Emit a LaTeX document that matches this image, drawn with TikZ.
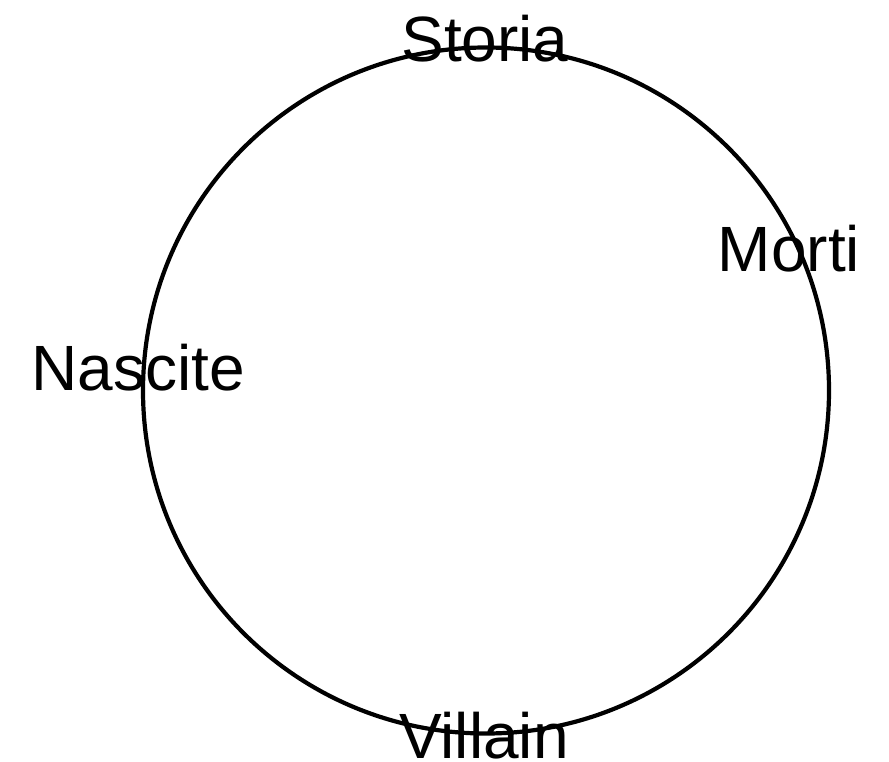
\documentclass[tikz,border=0pt]{standalone}
\usepackage{fontspec}
\setmainfont{Liberation Sans}
\usepackage{tikz}
\usetikzlibrary{positioning}

\begin{document}
\begin{tikzpicture}[
  x=1pt,y=-1pt,
  ring/.style={draw=black,line width=4.2pt,circle,inner sep=0pt,minimum size=686pt},
  lbl/.style={anchor=base,inner sep=0pt,font=\fontsize{64}{72}\selectfont}
]
\useasboundingbox (0,0) rectangle (889,762);
\node[ring] (cycle) at (486,390.5) {};
\node[lbl] (storia) at (485,62) {Storia};
\node[lbl] (morti) at (789,271) {Morti};
\node[lbl] (nascite) at (138,390) {Nascite};
\node[lbl] (villain) at (484,758) {Villain};
\end{tikzpicture}
\end{document}
